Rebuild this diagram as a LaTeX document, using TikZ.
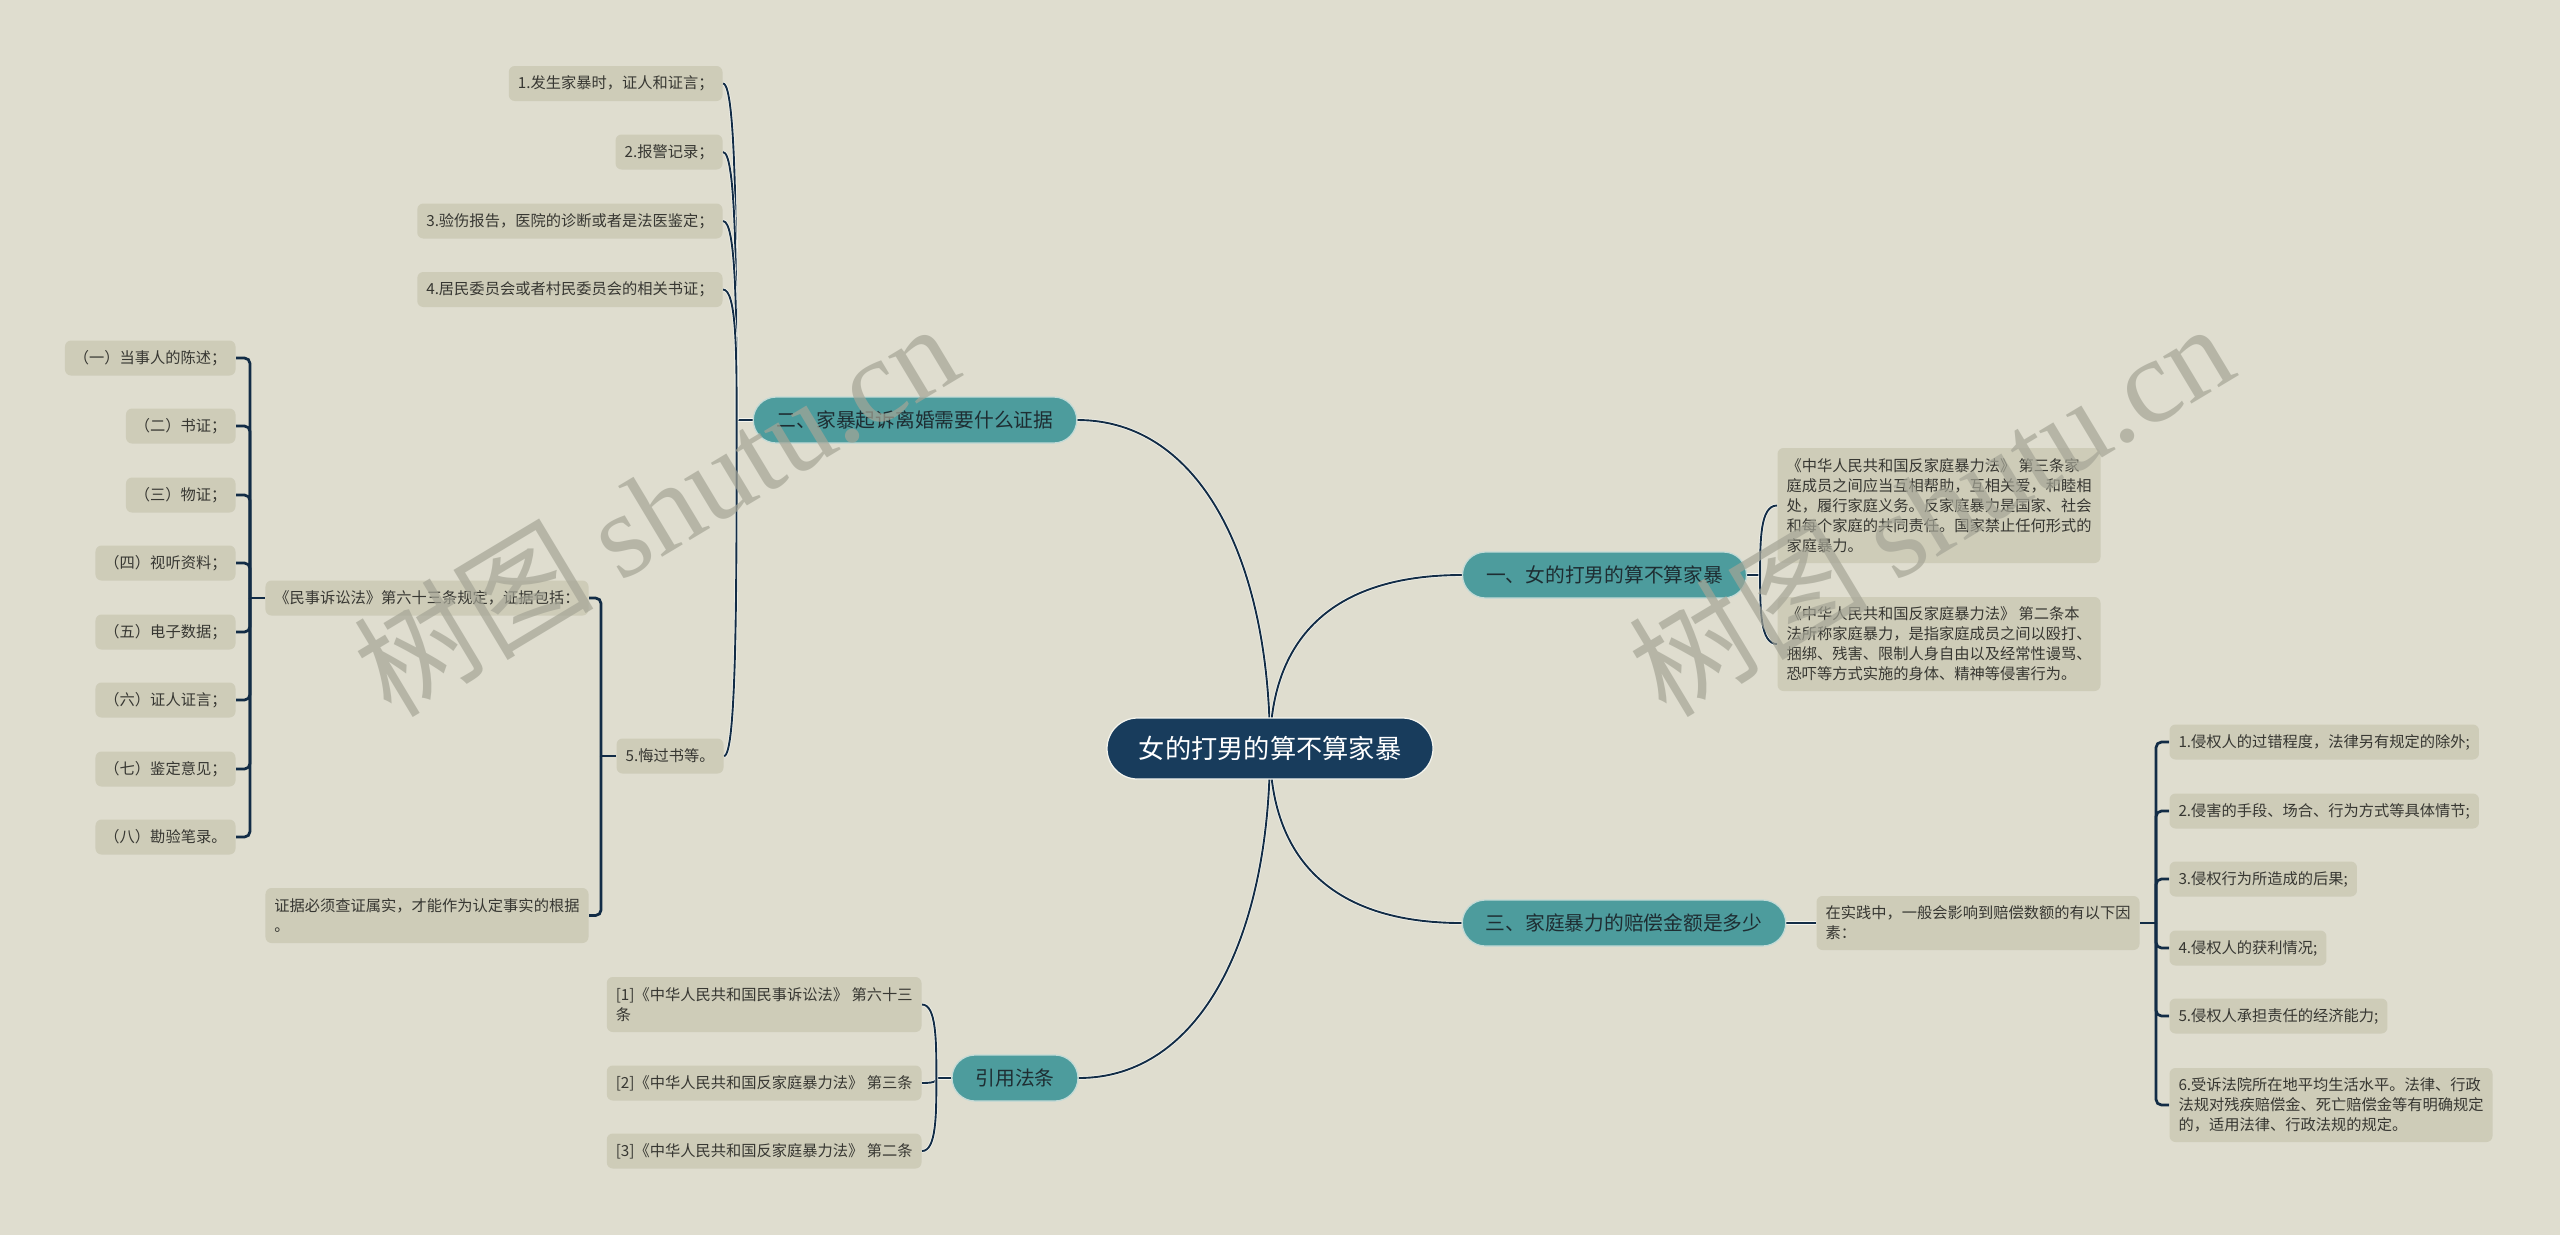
\documentclass[tikz,border=0pt]{standalone}
\usepackage{fontspec}
\setmainfont{Noto Sans CJK SC}
\newfontfamily\wmlatin{Liberation Serif}
\usetikzlibrary{calc}
\definecolor{bgc}{RGB}{223,221,207}
\definecolor{leafc}{RGB}{206,204,184}
\definecolor{tealc}{RGB}{77,156,157}
\definecolor{navyc}{RGB}{24,60,92}
\definecolor{linec}{RGB}{18,44,70}
\definecolor{edgec}{RGB}{245,245,238}
\definecolor{txtc}{RGB}{55,55,50}
\definecolor{btxt}{RGB}{30,45,50}
\definecolor{wmc}{RGB}{165,165,150}
\pgfdeclarelayer{background}
\pgfsetlayers{background,main}
\tikzset{
 leaf/.style={fill=leafc, rounded corners=2.4pt, inner xsep=3.6pt, inner ysep=1pt, minimum height=14pt, align=left, text=txtc, font=\fontsize{6.1pt}{8pt}\selectfont},
 branch/.style={fill=tealc, draw=edgec!70!tealc, line width=0.5pt, rounded corners=9.2pt, minimum height=18.4pt, inner xsep=9.4pt, inner ysep=1pt, text=btxt, font=\fontsize{7.9pt}{9pt}\selectfont},
 root/.style={fill=navyc, draw=edgec, line width=0.5pt, rounded corners=12.2pt, minimum height=24.4pt, minimum width=130.4pt, text=white, font=\fontsize{10.5pt}{12pt}\selectfont},
 conn/.style={draw=edgec, line width=0.3pt, double=linec, double distance=0.75pt},
 brk/.style={draw=linec, line width=1.1pt, rounded corners=2.2pt},
 wm/.style={text=wmc, text opacity=0.7, rotate=31, font=\fontsize{48pt}{50pt}\selectfont}
}
\begin{document}
\begin{tikzpicture}[x=0.4pt,y=-0.4pt]
\useasboundingbox (0,0) rectangle (2560,1235);
% root and branches
\node[root] (c) at (1270,748.5) {女的打男的算不算家暴};
\node[branch] (b2) at (915,420) {二、家暴起诉离婚需要什么证据};
\node[branch] (b1) at (1604.5,575) {一、女的打男的算不算家暴};
\node[branch] (b3) at (1624,923) {三、家庭暴力的赔偿金额是多少};
\node[branch] (b4) at (1015,1078) {引用法条};
% branch two
\node[leaf, anchor=east] (l1) at (723,83.5) {1.发生家暴时，证人和证言；};
\node[leaf, anchor=east] (l2) at (723,152) {2.报警记录；};
\node[leaf, anchor=east] (l3) at (723,221) {3.验伤报告，医院的诊断或者是法医鉴定；};
\node[leaf, anchor=east] (l4) at (723,289.5) {4.居民委员会或者村民委员会的相关书证；};
\node[leaf, anchor=east] (l5) at (724,756) {5.悔过书等。};
\node[leaf, anchor=east] (m) at (589,598) {《民事诉讼法》第六十三条规定，证据包括：};
\node[leaf, anchor=east, minimum height=22pt] (e) at (589,915.5) {证据必须查证属实，才能作为认定事实的根据\\。};
\node[leaf, anchor=east] (i1) at (236,358) {（一）当事人的陈述；};
\node[leaf, anchor=east] (i2) at (236,426) {（二）书证；};
\node[leaf, anchor=east] (i3) at (236,495) {（三）物证；};
\node[leaf, anchor=east] (i4) at (236,563) {（四）视听资料；};
\node[leaf, anchor=east] (i5) at (236,632) {（五）电子数据；};
\node[leaf, anchor=east] (i6) at (236,700) {（六）证人证言；};
\node[leaf, anchor=east] (i7) at (236,769) {（七）鉴定意见；};
\node[leaf, anchor=east] (i8) at (236,837) {（八）勘验笔录。};
% references
\node[leaf, anchor=east, minimum height=22pt] (f1) at (922,1004.5) {[1]《中华人民共和国民事诉讼法》 第六十三\\条};
\node[leaf, anchor=east] (f2) at (922,1083) {[2]《中华人民共和国反家庭暴力法》 第三条};
\node[leaf, anchor=east] (f3) at (922,1151) {[3]《中华人民共和国反家庭暴力法》 第二条};
% branch one
\node[leaf, anchor=west, minimum height=46pt] (A) at (1777,505.5) {《中华人民共和国反家庭暴力法》 第三条家\\庭成员之间应当互相帮助，互相关爱，和睦相\\处，履行家庭义务。反家庭暴力是国家、社会\\和每个家庭的共同责任。国家禁止任何形式的\\家庭暴力。};
\node[leaf, anchor=west, minimum height=37.6pt] (B) at (1777,644) {《中华人民共和国反家庭暴力法》 第二条本\\法所称家庭暴力，是指家庭成员之间以殴打、\\捆绑、残害、限制人身自由以及经常性谩骂、\\恐吓等方式实施的身体、精神等侵害行为。};
% branch three
\node[leaf, anchor=west, minimum height=21.6pt] (p) at (1816,923) {在实践中，一般会影响到赔偿数额的有以下因\\素：};
\node[leaf, anchor=west] (r1) at (2169,742) {1.侵权人的过错程度，法律另有规定的除外;};
\node[leaf, anchor=west] (r2) at (2169,811) {2.侵害的手段、场合、行为方式等具体情节;};
\node[leaf, anchor=west] (r3) at (2169,879) {3.侵权行为所造成的后果;};
\node[leaf, anchor=west] (r4) at (2169,948) {4.侵权人的获利情况;};
\node[leaf, anchor=west] (r5) at (2169,1016) {5.侵权人承担责任的经济能力;};
\node[leaf, anchor=west, minimum height=29.6pt] (r6) at (2169,1105) {6.受诉法院所在地平均生活水平。法律、行政\\法规对残疾赔偿金、死亡赔偿金等有明确规定\\的，适用法律、行政法规的规定。};

\begin{pgfonlayer}{background}
\fill[bgc] (0,0) rectangle (2560,1235);
% main curves
\draw[conn] (c.center) .. controls ($(c.center)+(0,-188)$) and ($(b2.east)+(123,0)$) .. (b2.east);
\draw[conn] (c.center) .. controls ($(c.center)+(0,-108)$) and ($(b1.west)+(-132,0)$) .. (b1.west);
\draw[conn] (c.center) .. controls ($(c.center)+(0,108)$) and ($(b3.west)+(-132,0)$) .. (b3.west);
\draw[conn] (c.center) .. controls ($(c.center)+(0,188)$) and ($(b4.east)+(122,0)$) .. (b4.east);
% branch two children
\coordinate (j2) at ($(b2.west)+(-16,0)$);
\draw[conn] (b2.west) -- (j2);
\foreach \n in {l1,l2,l3,l4,l5}
  \draw[conn] (j2) .. controls ($(j2)!0.5!(j2|-\n.east)$) and (j2|-\n.east) .. (\n.east);
% branch one children
\coordinate (j1) at ($(b1.east)+(13,0)$);
\draw[conn] (b1.east) -- (j1);
\foreach \n in {A,B}
  \draw[conn] (j1) .. controls ($(j1)!0.5!(j1|-\n.west)$) and (j1|-\n.west) .. (\n.west);
% references
\coordinate (j4) at ($(b4.west)+(-15,0)$);
\draw[conn] (b4.west) -- (j4);
\foreach \n in {f1,f2,f3}
  \draw[conn] (j4) .. controls ($(j4)!0.5!(j4|-\n.east)$) and (j4|-\n.east) .. (\n.east);
% branch three
\draw[conn] (b3.east) -- (p.west);
\coordinate (j6) at ($(p.east)+(16,0)$);
\draw[brk] (p.east) -- (j6);
\foreach \k in {1,...,6} \draw[brk] (j6) |- (r\k.west);
% elbow brackets left
\coordinate (j5) at ($(l5.west)+(-15,0)$);
\draw[brk] (l5.west) -- (j5);
\draw[brk] (j5) |- (m.east);
\draw[brk] (j5) |- (e.east);
\coordinate (jm) at ($(m.west)+(-15,0)$);
\draw[brk] (m.west) -- (jm);
\foreach \k in {1,...,8} \draw[brk] (jm) |- (i\k.east);
\end{pgfonlayer}
% watermark
\node[wm] (w1) at (655,508) {树图 {\wmlatin shutu.cn}};
\node[wm] (w2) at (1930,508) {树图 {\wmlatin shutu.cn}};
\end{tikzpicture}
\end{document}
